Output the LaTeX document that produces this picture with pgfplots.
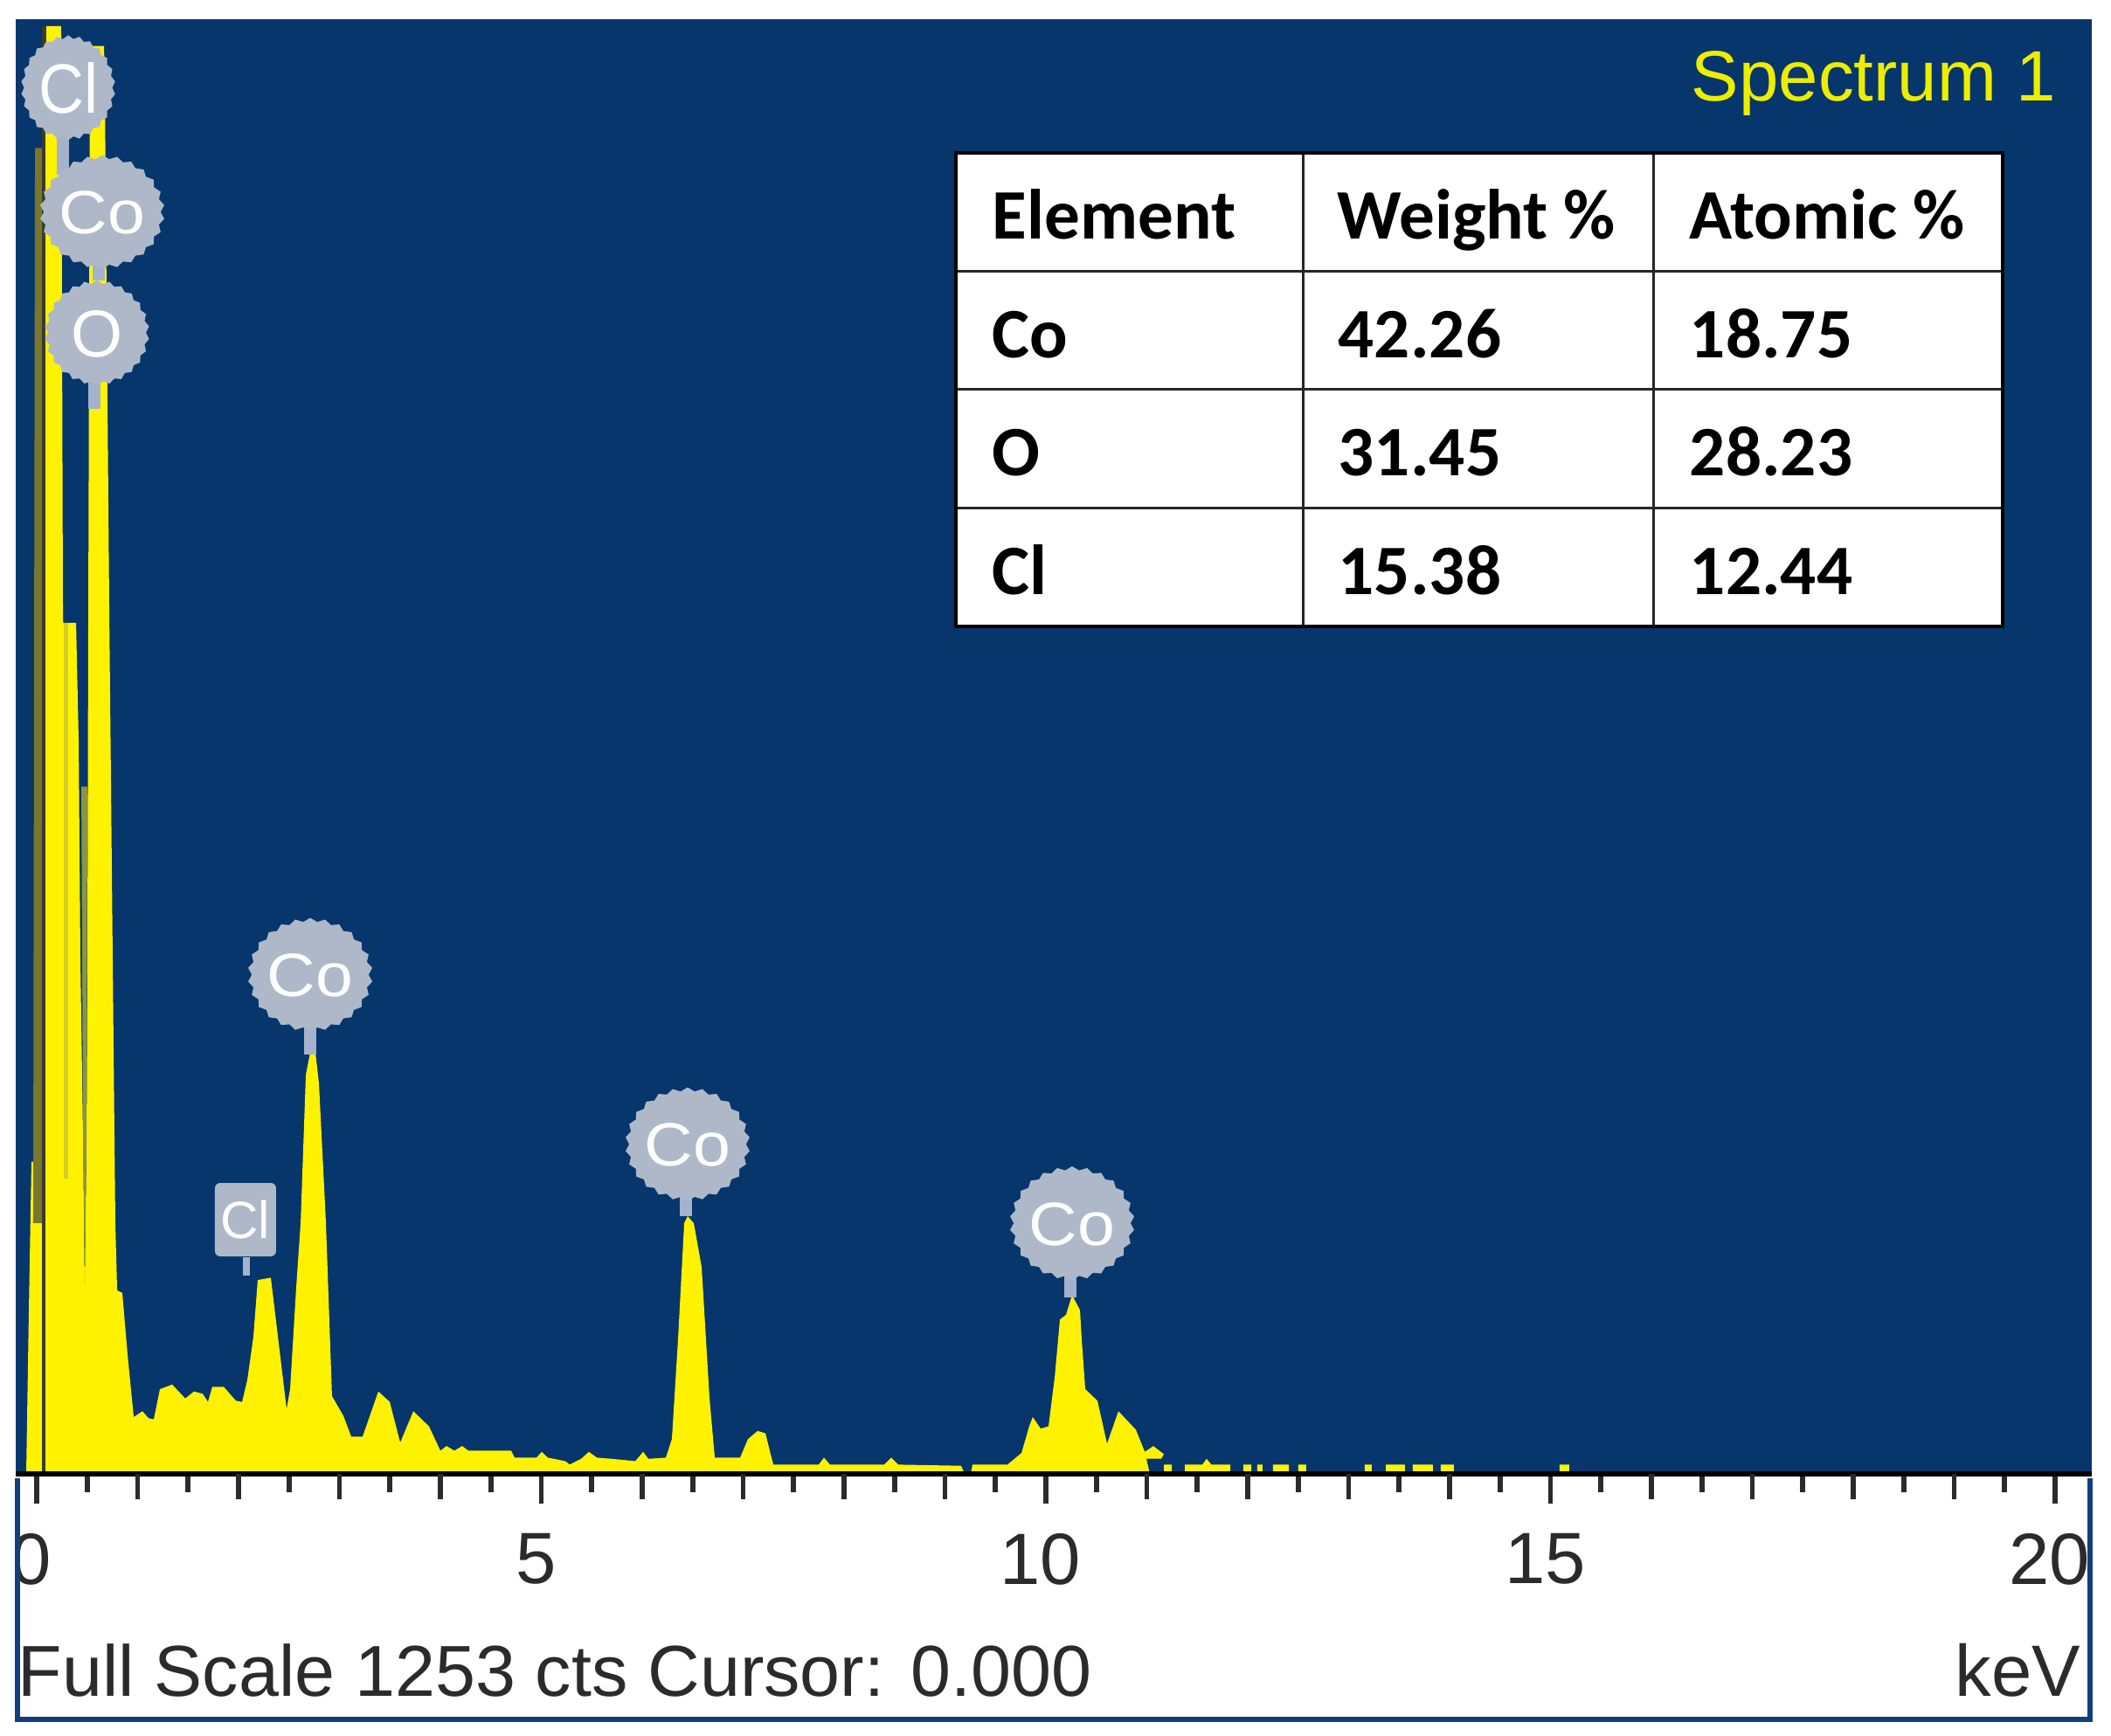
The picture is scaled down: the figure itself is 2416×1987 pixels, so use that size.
\documentclass[border=0pt]{standalone}
\usepackage{fontspec}
\setmainfont{Liberation Sans}
\newfontfamily\tabfont{Carlito}
\usepackage{pgfplots}
\pgfplotsset{compat=1.18}
\usetikzlibrary{shapes.geometric}
\definecolor{panel}{HTML}{06366C}
\definecolor{framec}{HTML}{123F7C}
\definecolor{badge}{HTML}{AEB8C8}
\definecolor{stem}{HTML}{A4B2CC}
\definecolor{ink}{HTML}{2B2B2B}
\definecolor{specy}{HTML}{EDED00}
\newcommand{\badgetext}[1]{\smash{\makebox[0pt]{\raisebox{-.36em}{#1}}}}
\begin{document}
\begin{tikzpicture}[x=0.25pt,y=-0.25pt]
\path[use as bounding box,fill=white] (0,0) rectangle (2416,1987);
\begin{axis}[
  at={(4.5pt,-421.75pt)},anchor=south west,
  scale only axis,width=594pt,height=416.25pt,
  xmin=-0.208,xmax=20.364,ymin=0,ymax=1253,
  axis background/.style={fill=panel},
  axis on top,
  axis x line*=bottom,
  axis y line=none,
  x axis line style={draw=black,line width=1.5pt,-},
  xtick={0,5,10,15,20},
  minor xtick={0.5,1.5,2.5,3.5,4.5,5.5,6.5,7.5,8.5,9.5,10.5,11.5,12.5,13.5,14.5,15.5,16.5,17.5,18.5,19.5},
  extra x ticks={1,2,3,4,6,7,8,9,11,12,13,14,16,17,18,19},
  extra x tick labels={},
  extra x tick style={major tick length=7.2pt,tick align=outside,tick pos=bottom},
  tick align=outside,
  major tick length=8.6pt,minor tick length=5.2pt,
  every tick/.style={draw=ink,line width=1.4pt},
  /pgf/number format/assume math mode=true,
  xticklabel style={font=\fontsize{20.8}{24}\selectfont,text=ink,xshift=-1.5pt,yshift=-5pt},
  clip=true,
  unbounded coords=jump,
]
% main spectrum
\addplot[draw=none,fill=yellow] coordinates {
(-0.104,0)(-0.078,141)(-0.052,269)(0.069,269)(0.087,1194)(0.095,1247)(0.242,1247)(0.26,735)(0.264,733)(0.39,733)
(0.416,630)(0.433,442)(0.459,291)(0.476,163)(0.494,291)(0.502,442)(0.511,743)(0.528,1224)(0.545,1230)(0.667,1230)
(0.675,1194)(0.719,743)(0.779,216)(0.797,158)(0.848,156)(0.900,103)(0.961,49)(1.048,54)(1.108,48)(1.160,47)
(1.221,73)(1.342,77)(1.472,65)(1.558,71)(1.645,69)(1.697,62)(1.740,75)(1.853,75)(1.974,63)(2.035,62)
(2.087,81)(2.147,118)(2.190,167)(2.320,169)(2.476,56)(2.511,73)(2.571,160)(2.615,216)(2.667,344)(2.71,363)
(2.762,363)(2.797,336)(2.866,216)(2.926,67)(3.039,50)(3.117,32)(3.229,32)(3.385,71)(3.498,62)(3.602,27)
(3.732,54)(3.887,41)(4.0,20)(4.061,24)(4.139,20)(4.216,24)(4.277,20)(4.701,20)(4.736,14)(4.952,14)
(5.004,19)(5.065,14)(5.238,11)(5.281,8)(5.394,13)(5.472,19)(5.55,14)(5.697,13)(5.931,11)(6.009,19)
(6.061,13)(6.234,14)(6.294,30)(6.355,116)(6.416,216)(6.45,222)(6.511,216)(6.589,178)(6.667,65)(6.719,14)
(6.97,14)(7.048,30)(7.143,37)(7.221,35)(7.299,8)(7.749,8)(7.801,14)(7.861,8)(8.398,8)(8.468,14)
(8.537,8)(9.16,7)(9.195,0)(9.255,0)(9.273,8)(9.619,8)(9.758,18)(9.835,41)(9.87,49)(9.948,39)
(10.026,41)(10.087,83)(10.139,133)(10.199,137)(10.26,154)(10.338,141)(10.355,116)(10.39,73)(10.511,63)(10.606,26)
(10.719,54)(10.892,38)(10.98,19)(11.065,24)(11.169,17)(11.143,13)(10.996,13)(11.03,0)
(11.169,0)(11.169,8)(11.247,8)(11.247,0)
(11.377,0)(11.377,8)(11.55,8)(11.593,13)(11.64,8)(11.827,8)(11.827,0)
(11.957,0)(11.957,8)(12.035,8)(12.035,0)
(12.095,0)(12.095,8)(12.147,8)(12.147,0)
(12.251,0)(12.251,8)(12.407,8)(12.407,0)
(12.502,0)(12.502,8)(12.58,8)(12.58,0)
(13.16,0)(13.16,8)(13.229,8)(13.229,0)
(13.368,0)(13.368,8)(13.558,8)(13.558,0)
(13.636,0)(13.636,8)(13.835,8)(13.835,0)
(13.913,0)(13.913,8)(14.043,8)(14.043,0)
(15.09,0)(15.09,8)(15.186,8)(15.186,0)
} \closedcycle;
% dim band left of the cursor
\addplot[draw=none,fill=olive!70!panel] coordinates {(-0.035,216)(-0.017,1142)(0.069,1142)(0.069,216)} --cycle;
% paler shoulder strip
\addplot[draw=none,fill=yellow!82!black] coordinates {(0.268,254)(0.268,733)(0.312,733)(0.312,254)} --cycle;
% soft narrow gap between the two strongest peaks
\addplot[draw=none,fill=olive!70!teal!85!white] coordinates {(0.442,592)(0.502,592)(0.494,291)(0.476,163)(0.459,291)} --cycle;
% stems
\addplot[stem,line width=3.4pt,no marks] coordinates {
(0.26,1154)(0.26,1119)(0.26,nan)
(0.615,1045)(0.615,1028)(0.615,nan)
(0.571,941)(0.571,917)(0.571,nan)
(2.71,385)(2.71,361)(2.71,nan)
(6.433,244)(6.433,222)(6.433,nan)
(10.242,173)(10.242,152)};
\addplot[stem,line width=2pt,no marks] coordinates {(2.078,187)(2.078,171)};
% badges
\addplot[only marks,mark=none,point meta=explicit symbolic,
  nodes near coords={\badgetext{\pgfplotspointmeta}},nodes near coords align={center},
  every node near coord/.style={star,star points=26,star point ratio=1.07,fill=badge,inner sep=0pt,
   minimum size=32.5pt,xscale=1.1,transform shape,text=white,anchor=center,font=\fontsize{17.5}{20}\selectfont}]
 coordinates {(0.649,1087)[Co](2.71,430)[Co](6.45,284)[Co](10.26,216)[Co]};
\addplot[only marks,mark=none,point meta=explicit symbolic,
  nodes near coords={\badgetext{\pgfplotspointmeta}},nodes near coords align={center},
  every node near coord/.style={star,star points=26,star point ratio=1.07,fill=badge,inner sep=0pt,
   minimum size=30pt,text=white,anchor=center,font=\fontsize{19}{22}\selectfont}]
 coordinates {(0.597,983)[O]};
\addplot[only marks,mark=none,point meta=explicit symbolic,
  nodes near coords={\badgetext{\pgfplotspointmeta}},nodes near coords align={center},
  every node near coord/.style={star,star points=26,star point ratio=1.07,fill=badge,inner sep=0pt,
   minimum size=30pt,xscale=0.9,transform shape,text=white,anchor=center,font=\fontsize{20}{24}\selectfont}]
 coordinates {(0.312,1194)[Cl]};
\addplot[only marks,mark=none,point meta=explicit symbolic,
  nodes near coords={\badgetext{\pgfplotspointmeta}},nodes near coords align={center},
  every node near coord/.style={rectangle,rounded corners=1.5pt,fill=badge,inner sep=0pt,
   minimum width=17.5pt,minimum height=21pt,text=white,anchor=center,font=\fontsize{15}{18}\selectfont}]
 coordinates {(2.069,219)[Cl]};
% cursor
\addplot[color=black!75!olive,line width=1.1pt,no marks] coordinates {(0.069,0)(0.069,1247)};
\end{axis}
% clip of the labels by the frame
\fill[white] (0,1695) rectangle (18,1987);
\fill[white] (2392,1695) rectangle (2416,1987);
\draw[framec,line width=1.5pt] (20,1692) -- (20,1968) -- (2392,1968) -- (2392,1692);
\node[anchor=base west,inner sep=0pt,text=ink,font=\fontsize{20.65}{24}\selectfont] at (20,1941) {Full Scale 1253 cts Cursor: 0.000};
\node[anchor=base east,inner sep=0pt,text=ink,font=\fontsize{20.8}{24}\selectfont] at (2382,1941) {keV};
\node[anchor=base west,inner sep=0pt,text=specy,font=\fontsize{20.4}{24}\selectfont] at (1935,116) {Spectrum 1};
% table
\fill[white] (1094,175) rectangle (2292,717);
\draw[black!85,line width=0.75pt] (1491,175) -- (1491,717) (1892,175) -- (1892,717)
  (1094,311) -- (2292,311) (1094,446) -- (2292,446) (1094,582) -- (2292,582);
\draw[black,line width=0.9pt] (1094,175) rectangle (2292,717);
\begin{scope}[every node/.style={anchor=base west,inner sep=0pt,text=black,font=\tabfont\bfseries\fontsize{20.3}{24}\selectfont}]
\node at (1135,274) {Element};
\node at (1530,274) {Weight\hspace{.22em}\%};
\node at (1933,274) {Atomic\hspace{.22em}\%};
\node at (1135,410) {Co};
\node at (1531,410) {42.26};
\node at (1933,410) {18.75};
\node at (1135,545) {O};
\node at (1531,545) {31.45};
\node at (1933,545) {28.23};
\node at (1135,681) {Cl};
\node at (1531,681) {15.38};
\node at (1933,681) {12.44};
\end{scope}
\end{tikzpicture}
\end{document}
